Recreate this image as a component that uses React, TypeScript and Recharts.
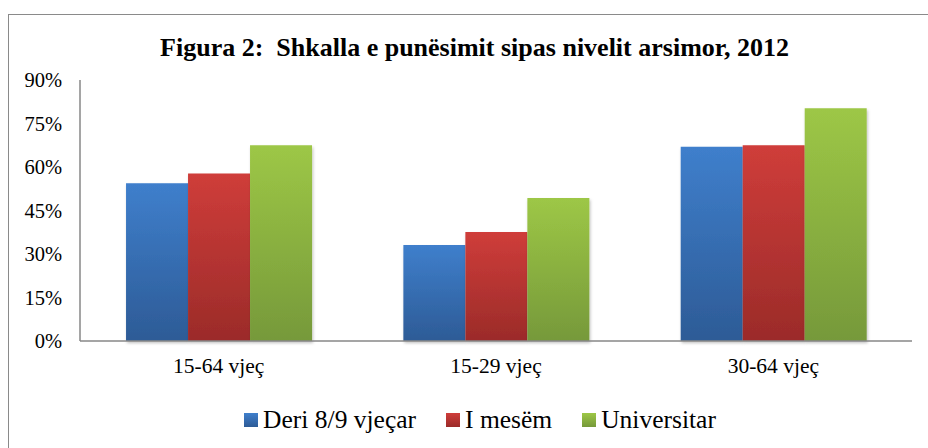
import { BarChart, Bar, XAxis, YAxis, Legend } from 'recharts';

const categories = ['15-64 vjeç', '15-29 vjeç', '30-64 vjeç'];
const deriValues = [54.4, 33.1, 67.0];
const mesemValues = [57.8, 37.6, 67.5];
const universitarValues = [67.5, 49.3, 80.3];
const yTicks = [0, 15, 30, 45, 60, 75, 90];

const series = [
  { key: 'deri', name: 'Deri 8/9 vjeçar', top: '#3f7fcc', bottom: '#2d5b96' },
  { key: 'mesem', name: 'I mesëm', top: '#cf3d3a', bottom: '#9b2b29' },
  { key: 'universitar', name: 'Universitar', top: '#9dc746', bottom: '#76993a' },
];

const data = categories.map((cat, i) => ({
  cat,
  deri: deriValues[i],
  mesem: mesemValues[i],
  universitar: universitarValues[i],
}));

const FONT = "'Liberation Serif', 'Times New Roman', serif";
const AXIS_COLOR = '#878787';

function LegendBox() {
  return (
    <div
      style={{
        height: 40,
        display: 'flex',
        alignItems: 'center',
        justifyContent: 'center',
        paddingLeft: 48,
        fontFamily: FONT,
        fontSize: 25.5,
        color: '#000',
      }}
    >
      {series.map((s, i) => (
        <div key={s.key} style={{ display: 'flex', alignItems: 'center', marginLeft: i ? 30 : 0 }}>
          <span
            style={{
              width: 14,
              height: 14,
              marginRight: 5,
              background: `linear-gradient(${s.top}, ${s.bottom})`,
            }}
          />
          <span>{s.name}</span>
        </div>
      ))}
    </div>
  );
}

export default function App() {
  return (
    <div
      style={{
        position: 'absolute',
        top: 0,
        left: 0,
        width: 928,
        height: 448,
        overflow: 'hidden',
        background: '#fff',
      }}
    >
      <div
        style={{
          position: 'absolute',
          left: 8,
          top: 14,
          width: 950,
          height: 470,
          border: '1px solid #8a8a8a',
        }}
      />
      <div
        style={{
          position: 'absolute',
          top: 35,
          left: 0,
          width: 949,
          textAlign: 'center',
          fontFamily: FONT,
          fontWeight: 'bold',
          fontSize: 26,
          lineHeight: '26px',
          color: '#000',
          whiteSpace: 'pre',
        }}
      >
        {'Figura 2:  Shkalla e punësimit sipas nivelit arsimor, 2012'}
      </div>
      <div style={{ position: 'absolute', top: 0, left: 0 }}>
        <BarChart
          width={928}
          height={448}
          data={data}
          margin={{ top: 80, right: 16, bottom: 8, left: 0 }}
          barCategoryGap="16.6%"
          barGap={0}
        >
          <defs>
            {series.map((s) => (
              <linearGradient key={s.key} id={`grad-${s.key}`} x1="0" y1="0" x2="0" y2="1">
                <stop offset="0%" stopColor={s.top} />
                <stop offset="100%" stopColor={s.bottom} />
              </linearGradient>
            ))}
            <filter id="barShadow" x="-10%" y="-10%" width="130%" height="130%">
              <feDropShadow dx="1" dy="2" stdDeviation="1.5" floodColor="#000" floodOpacity="0.25" />
            </filter>
          </defs>
          <XAxis
            dataKey="cat"
            height={59}
            axisLine={{ stroke: AXIS_COLOR, strokeWidth: 1.5 }}
            tickLine={false}
            tickSize={0}
            tickMargin={17}
            tick={{ fill: '#000', fontSize: 21.5, fontFamily: FONT }}
          />
          <YAxis
            width={80}
            domain={[0, 90]}
            ticks={yTicks}
            interval={0}
            tickFormatter={(v) => `${v}%`}
            axisLine={{ stroke: AXIS_COLOR, strokeWidth: 1.5 }}
            tickLine={false}
            tickSize={0}
            tickMargin={18}
            tick={{ fill: '#000', fontSize: 20.5, fontFamily: FONT }}
          />
          <Legend verticalAlign="bottom" align="center" content={() => <LegendBox />} />
          {series.map((s) => (
            <Bar
              key={s.key}
              dataKey={s.key}
              name={s.name}
              fill={`url(#grad-${s.key})`}
              filter="url(#barShadow)"
              isAnimationActive={false}
            />
          ))}
        </BarChart>
      </div>
    </div>
  );
}
